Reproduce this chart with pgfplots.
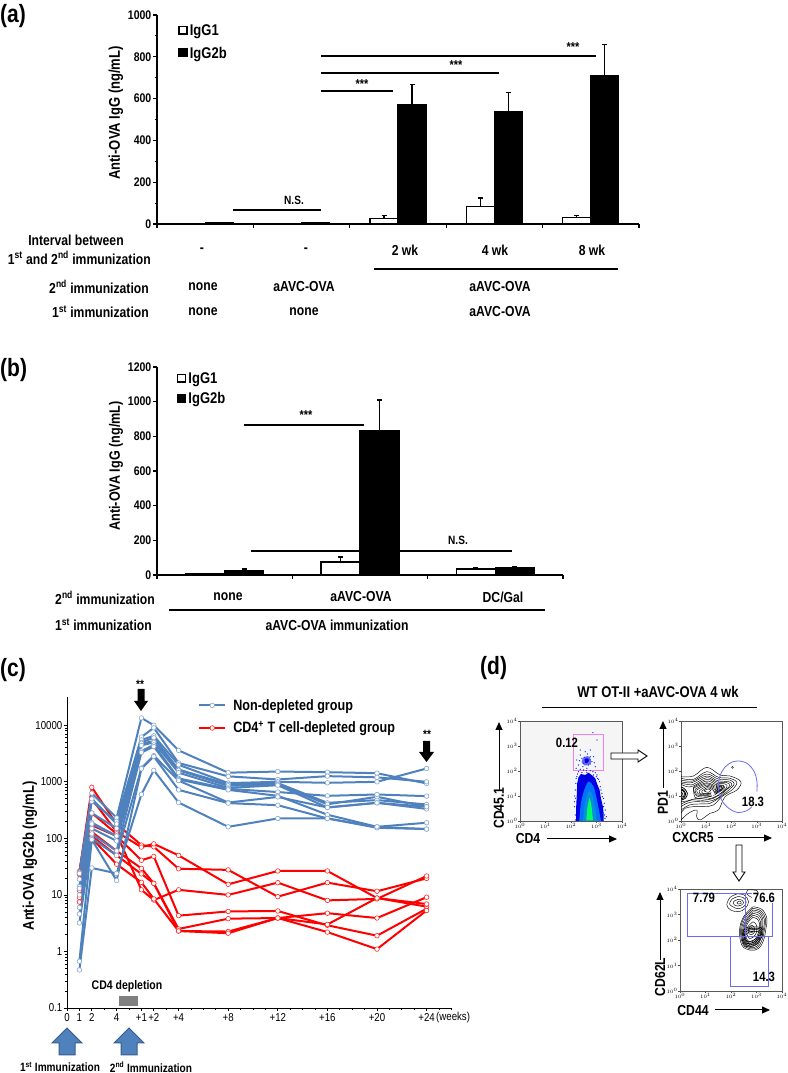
\documentclass[border=0pt]{standalone}
\usepackage{pgfplots}
\usepackage{pgfplotstable}
\usepackage{fontspec}
\pgfplotsset{compat=1.18}
\setmainfont{Liberation Sans}[FakeStretch=0.84]
\usetikzlibrary{arrows.meta}
\definecolor{bl}{HTML}{4F81BD}
\definecolor{bld}{HTML}{385D8A}
\definecolor{gate}{HTML}{6A6AF5}
\definecolor{pinkg}{HTML}{F27FF2}
\newcommand{\fs}[1]{\fontsize{#1}{#1}\selectfont}
\pgfplotstableread{
x B1 B2 B3 B4 B5 B6 B7 B8 B9 B10 B11
1 25 24 19 14 13 10 6 4.6 3.2 0.67 0.47
2 630 450 500 280 190 180 150 120 100 95 30
4 230 200 180 150 110 110 90 60 50 18 24
6 13500 6200 5500 5000 4800 4400 3500 3300 1750 1700 600
7 10000 9000 6500 6000 5200 5000 4500 4200 2900 2800 1600
9 3600 2150 2000 1650 1600 1450 1150 1100 1050 720 430
13 1450 1250 950 900 850 780 750 720 430 420 160
17 1520 1100 1000 950 900 870 660 565 540 386 225
21 1480 1260 960 425 400 352 565 262 352 225 225
25 1420 1200 1000 475 543 425 597 160 425 154 160
29 935 1000 1720 398 363 332 558 189 363 146 146
}\bluetab
\pgfplotstableread{
x R1 R2 R3 R4 R5 R6 R7
1 25 26 13 12 9 7.5 23
2 800 500 280 170 130 110 100
4 180 130 120 110 60 50 35
6 76 70 12.3 41 29.5 23.5 16.7
7 71 80 8.1 48 16 16 8.5
9 29 50 12.3 4.3 2.5 2.3 2.3
13 27.7 15.4 10 5.1 3.8 2.25 2.1
17 9.3 26.5 16.5 5.2 3.9 3.9 3.9
21 16.5 26.5 8 2.9 3 4.75 2.2
25 11.6 8.8 8.5 1.9 8.8 3.9 1.1
29 19.6 6.2 21.6 5.7 6.9 9.1 5.3
}\redtab
\pgfplotsset{
 barax/.style={
  scale only axis, axis lines=left, axis line style={-,line width=1.4pt},
  clip=false, ybar=0pt, tick align=outside,
  tick style={black,line width=1.1pt}, major tick length=4pt, minor tick length=2.5pt,
  ymin=0, xtick pos=left, ytick pos=left, xticklabels={},
  /pgf/number format/assume math mode=true, /pgf/number format/1000 sep={},
  yticklabel style={font=\bfseries\fs{12.5}, inner sep=1.5pt},
  scaled y ticks=false,
  legend image code/.code={\draw[#1,line width=1.4pt,draw=black] (0pt,-3.5pt) rectangle (8pt,4pt);},
  legend cell align=left,
 },
 wbar/.style={fill=white,draw=black,line width=1.3pt,
   error bars/.cd,y dir=plus,y explicit,error bar style={line width=1.3pt,black},
   error mark options={rotate=90,mark size=2.5pt,line width=1.3pt,black}},
 kbar/.style={fill=black,draw=black,line width=1.3pt,
   error bars/.cd,y dir=plus,y explicit,error bar style={line width=1.3pt,black},
   error mark options={rotate=90,mark size=2.5pt,line width=1.3pt,black}},
 bline/.style={color=bl,line width=2pt,mark=*,mark size=2.3pt,mark options={fill=white,draw=bl!70,line width=0.6pt,solid}},
 rline/.style={color=red,line width=2pt,mark=*,mark size=2.3pt,mark options={fill=white,draw=red!85,line width=0.6pt,solid}},
 facs/.style={scale only axis, clip=true, y dir=reverse, axis line style={line width=0.5pt,black!65},
   tick align=outside, major tick length=1.6pt, tick style={black!70,line width=0.4pt},
   xtick pos=left, ytick pos=left, width=102pt,height=100pt,
   x tick label style={font=\fs{4.5},inner sep=0.8pt},
   y tick label style={font=\fs{4.5},inner sep=0.8pt},
   xticklabels={$10^0$,$10^1$,$10^2$,$10^3$,$10^4$},
   yticklabels={$10^4$,$10^3$,$10^2$,$10^1$,$10^0$}},
 cont/.style={smooth,tension=0.6,black,line width=0.45pt,no marks},
 gateline/.style={gate,line width=0.8pt,no marks},
}
\begin{document}
\begin{tikzpicture}
\path[use as bounding box] (0,0) rectangle (787pt,1073pt);

% ---------- (a)
\begin{axis}[barax, at={(157pt,849pt)}, anchor=south west,
  width=482pt, height=209pt, xmin=0, xmax=5, ymax=1000, bar width=28pt,
  xtick={0,1,2,3,4,5}, ytick={0,200,400,600,800,1000}, minor y tick num=1,
  legend style={at={(0.044,0.965)},anchor=north west,draw=none,fill=none,inner sep=0pt,
    font=\bfseries\fs{15.5},row sep=6pt,/tikz/every even column/.style={column sep=1pt}}]
\addplot[wbar] coordinates {(0.5,4) (1.5,4) (2.5,25) +- (0,17) (3.5,85) +- (0,40) (4.5,30) +- (0,12)};
\addplot[kbar] coordinates {(0.5,5) (1.5,5) (2.5,572) +- (0,96) (3.5,538) +- (0,92) (4.5,710) +- (0,150)};
\addlegendentry{IgG1}
\addlegendentry{IgG2b}
\end{axis}

% ---------- (b)
\begin{axis}[barax, at={(157pt,498pt)}, anchor=south west,
  width=406pt, height=208pt, xmin=0, xmax=3, ymax=1200, bar width=39pt,
  xtick={0,1,2,3}, ytick={0,200,400,600,800,1000,1200},
  legend style={at={(0.049,0.985)},anchor=north west,draw=none,fill=none,inner sep=0pt,
    font=\bfseries\fs{15.5},row sep=4pt,/tikz/every even column/.style={column sep=1pt}}]
\addplot[wbar] coordinates {(0.5,10) (1.5,75) +- (0,28) (2.5,35) +- (0,7)};
\addplot[kbar] coordinates {(0.5,25) +- (0,10) (1.5,830) +- (0,180) (2.5,42) +- (0,8)};
\addlegendentry{IgG1}
\addlegendentry{IgG2b}
\end{axis}

% ---------- (c)
\begin{axis}[scale only axis, at={(67pt,65pt)}, anchor=south west,
  width=384.4pt, height=311pt, axis lines=left, axis line style={-,line width=0.9pt},
  ymode=log, xmin=0, xmax=31, ymin=0.1, ymax=31623, clip=false,
  tick align=outside, tick style={black,line width=0.7pt}, major tick length=3pt, minor tick length=2pt,
  xtick={0,1,2,4,6,7,9,13,17,21,25,29},
  xticklabels={0,1,2,4,+1,+2,+4,+8,+12,+16,+20,+24},
  minor xtick={0,1,...,31},
  ytick={0.1,1,10,100,1000,10000}, yticklabels={0.1,1,10,100,1000,10000},
  minor ytick={}, xtick pos=left, ytick pos=left,
  tick label style={font=\fs{11.5}}, x tick label style={inner sep=1pt,yshift=-1pt}, y tick label style={inner sep=1.5pt},
  legend image code/.code={\draw[#1,mark repeat=2,mark phase=2] plot coordinates {(0pt,0pt)(13pt,0pt)(26pt,0pt)};},
  legend cell align=left,
  legend style={at={(0.341,1.0)},anchor=north west,draw=none,fill=none,inner sep=0pt,
    font=\bfseries\fs{15},row sep=6pt,/tikz/every even column/.style={column sep=0pt}}]
\addlegendimage{bline}
\addlegendentry{\,\,Non-depleted group}
\addlegendimage{rline}
\addlegendentry{\,\,CD4\textsuperscript{+} T cell-depleted group}
\addplot[rline,forget plot] table[x=x,y=R1]{\redtab};
\addplot[rline,forget plot] table[x=x,y=R2]{\redtab};
\addplot[rline,forget plot] table[x=x,y=R3]{\redtab};
\addplot[rline,forget plot] table[x=x,y=R4]{\redtab};
\addplot[rline,forget plot] table[x=x,y=R5]{\redtab};
\addplot[rline,forget plot] table[x=x,y=R6]{\redtab};
\addplot[rline,forget plot] table[x=x,y=R7]{\redtab};
\addplot[bline,forget plot] table[x=x,y=B1]{\bluetab};
\addplot[bline,forget plot] table[x=x,y=B2]{\bluetab};
\addplot[bline,forget plot] table[x=x,y=B3]{\bluetab};
\addplot[bline,forget plot] table[x=x,y=B4]{\bluetab};
\addplot[bline,forget plot] table[x=x,y=B5]{\bluetab};
\addplot[bline,forget plot] table[x=x,y=B6]{\bluetab};
\addplot[bline,forget plot] table[x=x,y=B7]{\bluetab};
\addplot[bline,forget plot] table[x=x,y=B8]{\bluetab};
\addplot[bline,forget plot] table[x=x,y=B9]{\bluetab};
\addplot[bline,forget plot] table[x=x,y=B10]{\bluetab};
\addplot[bline,forget plot] table[x=x,y=B11]{\bluetab};
\end{axis}

% ---------- (d) plot 1
\begin{axis}[facs, at={(520pt,252pt)}, anchor=south west,
  xmin=120,xmax=425,ymin=213,ymax=513, axis background/.style={fill=black!4},
  xtick={120,196.25,272.5,348.75,425}, ytick={213,288,363,438,513}]
\addplot[only marks,mark=*,mark size=0.35pt,color=blue!85!cyan] coordinates {
(295,365)(310,360)(330,362)(345,368)(290,380)(350,375)(358,395)(365,430)(372,460)(368,490)(285,420)(283,470)(375,480)(378,500)(340,375)(320,368)(300,378)(360,410)(370,445)(374,505)(286,445)(352,385)(285,495)
(292,372)(305,368)(318,362)(338,365)(348,380)(355,388)(362,420)(366,440)(370,470)(373,495)(287,400)(288,385)(284,438)(283,455)(285,510)};
\addplot[fill=blue!90!black,draw=none,no marks] coordinates {(288,513)(288,470)(290,430)(291,400)(295,382)(302,372)(315,375)(325,368)(338,378)(345,385)(350,400)(358,420)(362,445)(368,470)(370,490)(370,513)};
\addplot[fill=blue!55!cyan,draw=none,no marks,smooth,tension=0.5] coordinates {(297,513)(302,460)(312,420)(325,395)(340,410)(350,450)(358,490)(362,513)};
\addplot[fill=cyan!75!blue,draw=none,no marks,smooth,tension=0.5] coordinates {(308,513)(314,465)(322,430)(332,425)(342,460)(350,513)};
\addplot[fill=green!60!cyan,draw=none,no marks,smooth,tension=0.5] coordinates {(318,511)(322,470)(328,445)(334,470)(338,511)};
\addplot[only marks,mark=*,mark size=0.35pt,color=blue!80!cyan] coordinates {
(300,315)(305,325)(310,340)(325,345)(330,320)(295,345)(335,335)(340,320)(315,305)(345,350)(350,270)(338,248)(300,300)(320,355)(290,330)(312,322)(326,328)(330,342)(308,350)(322,312)(298,332)(342,338)(288,355)(300,358)(330,300)};
\addplot[fill=blue!60!white,draw=none,no marks,smooth,tension=0.6] coordinates {(308,324)(322,318)(332,328)(329,343)(313,346)(304,336)};
\addplot[fill=blue!85!black,draw=none,no marks,smooth,tension=0.6] coordinates {(313,327)(322,325)(326,333)(321,339)(314,338)};
\addplot[pinkg,line width=0.7pt,no marks] coordinates {(280,252)(370,252)(370,360)(280,360)(280,252)};
\end{axis}

% ---------- (d) plot 2
\begin{axis}[facs, at={(681pt,252pt)}, anchor=south west,
  xmin=603,xmax=905,ymin=213,ymax=513, width=101pt,
  xtick={603,678.5,754,829.5,905}, ytick={213,288,363,438,513}]
\addplot[cont] coordinates {(603,380)(640,378)(680,352)(720,375)(750,378)(782,395)(770,420)(735,440)(715,480)(690,490)(660,510)(650,500)(650,480)(625,490)(603,510)};
\addplot[cont] coordinates {(603,385)(640,388)(680,365)(715,382)(750,385)(770,398)(755,420)(725,440)(700,465)(670,470)(640,470)(615,475)(603,490)};
\addplot[cont] coordinates {(603,390)(638,393)(680,372)(714,387)(748,390)(762,401)(746,420)(718,442)(690,460)(655,462)(628,465)(603,480)};
\addplot[cont] coordinates {(603,395)(635,398)(680,378)(712,392)(745,395)(755,405)(738,420)(712,445)(680,455)(645,455)(620,460)(603,470)};
\addplot[cont] coordinates {(603,400)(628,404)(640,403)(680,383)(711,396)(740,398)(748,408)(726,428)(700,445)(668,451)(635,450)(603,462)};
\addplot[cont] coordinates {(603,403)(620,410)(640,408)(680,388)(710,400)(735,402)(740,412)(715,435)(685,447)(650,445)(625,452)(603,455)};
\addplot[cont] coordinates {(640,412)(680,393)(708,404)(730,406)(725,418)(700,436)(668,444)(645,442)(640,412)};
\addplot[cont] coordinates {(640,415)(680,398)(705,408)(725,410)(710,430)(685,440)(650,438)(640,415)};
\addplot[cont] coordinates {(645,418)(680,401)(703,411)(720,412)(708,428)(685,436)(652,435)(645,418)};
\addplot[cont] coordinates {(650,420)(680,405)(702,414)(715,415)(705,427)(685,433)(655,432)(650,420)};
\addplot[cont] coordinates {(658,422)(681,409)(700,417)(708,420)(700,428)(685,431)(660,431)(658,422)};
\addplot[cont] coordinates {(665,424)(682,413)(698,420)(702,425)(685,430)(668,430)(665,424)};
\addplot[cont] coordinates {(672,423)(682,417)(692,421)(684,427)(672,423)};
\addplot[cont,line width=0.8pt] coordinates {(603,412)(612,415)(622,430)(616,445)(603,450)};
\addplot[cont,line width=0.8pt] coordinates {(603,417)(610,420)(617,431)(612,443)(603,446)};
\addplot[cont,line width=0.8pt] coordinates {(603,420)(612,425)(612,438)(603,442)};
\addplot[cont,line width=0.8pt] coordinates {(603,426)(607,430)(606,436)(603,438)};
\addplot[cont,line width=0.5pt] coordinates {(710,405)(730,408)(732,415)(718,425)(708,420)(710,405)};
\addplot[cont,line width=0.5pt] coordinates {(714,409)(726,411)(727,415)(718,421)(712,418)(714,409)};
\addplot[fill=white,draw=none,no marks,smooth] coordinates {(692,428)(700,426)(704,433)(696,438)(692,428)};
\addplot[only marks,mark=o,mark size=1pt,black,line width=0.3pt] coordinates {(757,352)};
\addplot[gateline,smooth,tension=0.6] coordinates {(830,425)(830,395)(822,365)(800,340)(770,333)(745,342)(725,365)(715,400)(720,440)(740,470)(770,487)(800,482)(815,470)};
\end{axis}

% ---------- (d) plot 3
\begin{axis}[facs, at={(680pt,82pt)}, anchor=south west,
  xmin=240,xmax=545,ymin=147,ymax=452, height=102pt,
  xtick={240,316.25,392.5,468.75,545}, ytick={147,223.25,299.5,375.75,452}]
\addplot[cont] coordinates {(458,200)(485,208)(500,235)(497,265)(490,300)(475,325)(450,330)(425,315)(418,270)(430,230)(458,200)};
\addplot[cont] coordinates {(458,205)(482,212)(496,236)(493,265)(486,298)(472,322)(450,326)(428,312)(421,270)(432,232)(458,205)};
\addplot[cont] coordinates {(458,210)(480,216)(492,238)(490,265)(482,295)(470,318)(450,322)(430,308)(424,270)(435,235)(458,210)};
\addplot[cont] coordinates {(458,215)(478,220)(488,240)(486,266)(479,294)(468,314)(450,318)(432,304)(427,270)(438,238)(458,215)};
\addplot[cont] coordinates {(458,220)(475,225)(485,242)(483,268)(476,292)(465,310)(450,314)(435,300)(430,270)(440,240)(458,220)};
\addplot[cont] coordinates {(458,226)(472,230)(481,246)(479,269)(473,290)(462,306)(449,309)(436,297)(432,269)(442,243)(458,226)};
\addplot[cont] coordinates {(458,232)(470,236)(478,250)(476,270)(470,288)(460,302)(448,305)(438,293)(435,268)(445,245)(458,232)};
\addplot[cont] coordinates {(458,245)(466,250)(470,262)(468,278)(460,290)(448,295)(441,285)(440,265)(450,252)(458,245)};
\addplot[cont] coordinates {(455,255)(462,262)(463,275)(455,283)(447,282)(444,270)(448,260)(455,255)};
\addplot[cont] coordinates {(454,262)(459,268)(456,277)(449,276)(449,267)(454,262)};
\addplot[cont,line width=0.6pt] coordinates {(428,275)(440,262)(480,262)(488,280)(470,310)(440,320)(426,300)(428,275)};
\addplot[cont,line width=0.6pt] coordinates {(431,278)(442,266)(479,266)(484,282)(466,307)(440,315)(429,298)(431,278)};
\addplot[cont,line width=0.6pt] coordinates {(434,280)(445,270)(478,270)(480,285)(462,305)(440,310)(432,295)(434,280)};
\addplot[cont,line width=0.6pt] coordinates {(437,284)(448,275)(474,275)(475,287)(460,300)(442,305)(436,295)(437,284)};
\addplot[cont] coordinates {(410,162)(432,165)(445,185)(435,205)(415,215)(392,210)(380,195)(390,172)(410,162)};
\addplot[cont] coordinates {(412,170)(428,172)(438,186)(430,200)(413,206)(398,200)(388,192)(396,177)(412,170)};
\addplot[cont] coordinates {(414,178)(424,180)(430,187)(424,195)(413,198)(402,194)(400,185)(414,178)};
\addplot[cont] coordinates {(416,183)(422,185)(423,190)(416,192)(410,189)(416,183)};
\addplot[cont] coordinates {(440,162)(442,150)(470,152)(472,166)(455,172)(440,162)};
\addplot[gateline] coordinates {(435,160)(262,160)(262,290)(435,290)(435,160)};
\addplot[gateline] coordinates {(435,160)(460,160)};
\addplot[gateline] coordinates {(517,190)(517,290)(435,290)};
\addplot[gateline] coordinates {(390,290)(390,437)(505,437)(505,290)};
\end{axis}

% ---------- annotations, in picture pixels (y downwards)
\begin{scope}[x=1pt,y=-1pt,yshift=1073pt,every node/.style={font=\bfseries\fs{14.5},inner sep=0pt}]
\newcommand{\st}{\textsuperscript{st}}
\newcommand{\nd}{\textsuperscript{nd}}
% panel letters
\node[anchor=west,font=\bfseries\fs{25}] at (0,16) {(a)};
\node[anchor=west,font=\bfseries\fs{25}] at (0,370) {(b)};
\node[anchor=west,font=\bfseries\fs{25}] at (0,670) {(c)};
\node[anchor=west,font=\bfseries\fs{25}] at (480,668) {(d)};
% (a)
\node[rotate=90,font=\bfseries\fs{15.5}] at (116,113) {Anti-OVA IgG (ng/mL)};
\draw[line width=1.2pt] (321,91)--(393,91) (321,73)--(499,73) (321,56)--(596,56) (233,210)--(321,210);
\node[font=\bfseries\fs{13}] at (362,84) {***}; \node[font=\bfseries\fs{13}] at (456,65) {***}; \node[font=\bfseries\fs{13}] at (573,47) {***};
\node[font=\bfseries\fs{12}] at (294,200) {N.S.};
\node at (76,240) {Interval between};
\node[anchor=east] at (151,258) {1\st{} and 2\nd{} immunization};
\node at (202,250) {-}; \node at (306,250) {-};
\node at (405,250) {2 wk}; \node at (495,250) {4 wk}; \node at (592,250) {8 wk};
\draw[line width=2pt] (374,269)--(618,269);
\node[anchor=east] at (149,287) {2\nd{} immunization};
\node at (203,287) {none}; \node at (304,287) {aAVC-OVA}; \node at (500,287) {aAVC-OVA};
\node[anchor=east] at (149,312) {1\st{} immunization};
\node at (203,312) {none}; \node at (304,312) {none}; \node at (500,312) {aAVC-OVA};
% (b)
\node[rotate=90,font=\bfseries\fs{15}] at (116,466) {Anti-OVA IgG (ng/mL)};
\draw[line width=1.2pt] (244,425)--(364,425);
\draw[line width=1.2pt] (251,551)--(360,551) (399,551)--(512,551);
\node[font=\bfseries\fs{13}] at (306,415) {***};
\node[font=\bfseries\fs{12}] at (458,540) {N.S.};
\node[anchor=east] at (155,598) {2\nd{} immunization};
\node at (228,597) {none}; \node at (361,597) {aAVC-OVA}; \node at (503,597) {DC/Gal};
\draw[line width=2pt] (169,610)--(545,610);
\node[anchor=east] at (152,625) {1\st{} immunization};
\node at (337,625) {aAVC-OVA immunization};
% (c)
\node[rotate=90,font=\bfseries\fs{15.5}] at (30,856) {Anti-OVA IgG2b (ng/mL)};
\node[font=\bfseries\fs{12}] at (140,684) {**};
\node[font=\bfseries\fs{12}] at (427,734) {**};
\fill[black] (137.5,689)--(144.5,689)--(144.5,701)--(148,701)--(141,711)--(134,701)--(137.5,701)--cycle;
\fill[black] (423,741)--(430,741)--(430,752)--(434,752)--(426.5,762)--(419,752)--(423,752)--cycle;
\node[anchor=west,font=\fs{11.5}] at (436,1018) {(weeks)};
\node[font=\bfseries\fs{12.5}] at (127,986) {CD4 depletion};
\fill[black!50] (119,996) rectangle (138,1006);
\foreach \c in {67,129}{
 \draw[fill=bl,draw=bld,line width=1pt] (\c-8,1055)--(\c-8,1043)--(\c-15,1043)--(\c,1028)--(\c+15,1043)--(\c+8,1043)--(\c+8,1055)--cycle;
}
\node[font=\bfseries\fs{12}] at (60,1067) {1\st{} Immunization};
\node[font=\bfseries\fs{12}] at (151,1067) {2\nd{} Immunization};
% (d)
\node[font=\bfseries\fs{15.5}] at (658,692) {WT OT-II +aAVC-OVA 4 wk};
\draw[line width=0.8pt] (542,707)--(757,707);
\draw[line width=1pt,-{Triangle[length=8pt,width=7pt]}] (499,790)--(499,722);
\node[rotate=90] at (499,808) {CD45.1};
\node at (528,839) {CD4};
\draw[line width=1pt,-{Triangle[length=8pt,width=7pt]}] (547,839)--(617,839);
\node[font=\bfseries\fs{13.5}] at (567,743) {0.12};
\draw[fill=white,line width=0.9pt] (611,753)--(638,753)--(638,750)--(647,756)--(638,762)--(638,759)--(611,759)--cycle;
\draw[line width=1pt,-{Triangle[length=8pt,width=7pt]}] (663,788)--(663,721);
\node[rotate=90] at (663,803) {PD1};
\node at (693,838) {CXCR5};
\draw[line width=1pt,-{Triangle[length=8pt,width=7pt]}] (718,838)--(772,838);
\node[font=\bfseries\fs{13.5}] at (753,802) {18.3};
\draw[fill=white,line width=0.9pt] (736,845)--(742,845)--(742,872)--(745,872)--(739,881)--(733,872)--(736,872)--cycle;
\draw[line width=1pt,-{Triangle[length=8pt,width=7pt]}] (660,960)--(660,892);
\node[rotate=90] at (660,977) {CD62L};
\node at (693,1011) {CD44};
\draw[line width=1pt,-{Triangle[length=8pt,width=7pt]}] (715,1010)--(770,1010);
\node[font=\bfseries\fs{13.5}] at (704,898) {7.79};
\node[fill=white,inner sep=0.5pt,font=\bfseries\fs{13.5}] at (764,898) {76.6};
\node[font=\bfseries\fs{13.5}] at (764,977) {14.3};
\end{scope}
\end{tikzpicture}
\end{document}
